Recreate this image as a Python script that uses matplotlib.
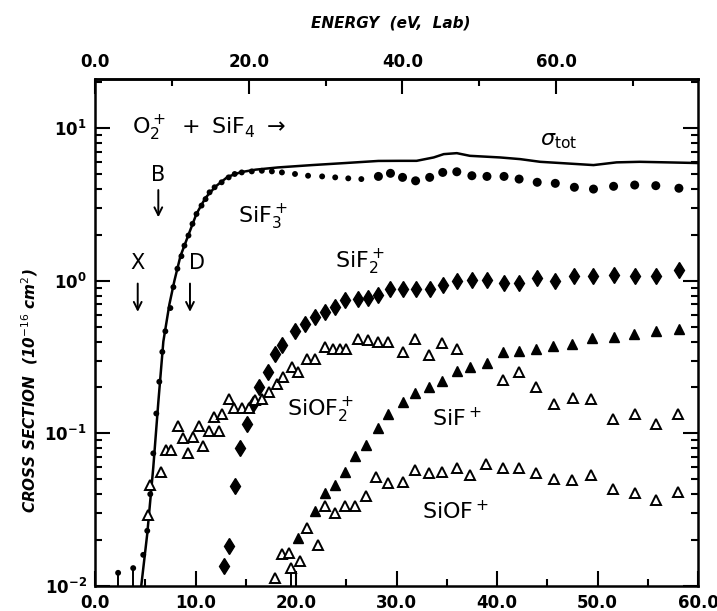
import matplotlib
matplotlib.use('Agg')
import matplotlib.pyplot as plt
import numpy as np
from matplotlib.ticker import FixedLocator, FormatStrFormatter, LogLocator

# total cross section (solid line)
tot_x = [4.6, 5.2, 5.8, 6.3, 6.8, 7.4, 7.9, 8.5, 9.3, 10.1, 11.0, 12.0, 13.2, 14.5,
         16.0, 18.2, 21.6, 24.9, 28.2, 30.3, 32.0, 33.7, 34.7, 36.0, 37.3, 40.3,
         42.3, 44.3, 46.3, 49.6, 51.9, 54.2, 56.9, 60.0]
tot_y = [0.010, 0.022, 0.060, 0.16, 0.40, 0.70, 1.0, 1.45, 2.0, 2.75, 3.5, 4.15, 4.8, 5.15,
         5.35, 5.53, 5.73, 5.91, 6.10, 6.11, 6.11, 6.43, 6.76, 6.86, 6.59, 6.43,
         6.27, 6.02, 5.91, 5.73, 5.97, 6.02, 5.97, 5.91]

# SiF3+ (filled circles)
sif3_x = [2.3, 3.8, 4.8, 5.2, 5.5, 5.8, 6.1, 6.4, 6.7, 7.0, 7.5, 7.8, 8.2, 8.6, 8.9, 9.3,
          9.7, 10.1, 10.6, 11.0, 11.4, 11.9, 12.6, 13.3, 13.9, 14.6, 15.6, 16.6, 17.6,
          18.6, 19.9, 21.2, 22.6, 23.9, 25.2, 26.5, 28.2, 29.4, 30.6, 31.9, 33.3, 34.6,
          36.0, 37.5, 39.0, 40.7, 42.2, 44.0, 45.8, 47.7, 49.6, 51.6, 53.7, 55.8, 58.1]
sif3_y = [0.0122, 0.0131, 0.016, 0.023, 0.040, 0.074, 0.135, 0.218, 0.342, 0.467, 0.663,
          0.909, 1.20, 1.45, 1.70, 1.98, 2.36, 2.74, 3.11, 3.43, 3.80, 4.10, 4.42, 4.76,
          5.01, 5.13, 5.21, 5.26, 5.21, 5.13, 5.01, 4.88, 4.83, 4.76, 4.69, 4.64, 4.83,
          5.06, 4.76, 4.52, 4.76, 5.13, 5.18, 4.88, 4.83, 4.83, 4.64, 4.42, 4.35, 4.10,
          3.99, 4.16, 4.24, 4.20, 4.04]

# SiF2+ (filled diamonds)
sif2_x = [12.8, 13.3, 13.9, 14.4, 15.1, 15.7, 16.3, 17.2, 17.9, 18.6, 19.9, 20.9, 21.9,
          22.9, 23.9, 24.9, 26.2, 27.2, 28.2, 29.4, 30.6, 31.9, 33.3, 34.6, 36.0, 37.5,
          39.0, 40.7, 42.2, 44.0, 45.8, 47.7, 49.6, 51.6, 53.7, 55.8, 58.1]
sif2_y = [0.0135, 0.0182, 0.0455, 0.080, 0.116, 0.157, 0.202, 0.253, 0.333, 0.382, 0.467,
          0.524, 0.579, 0.624, 0.673, 0.743, 0.763, 0.770, 0.802, 0.887, 0.887, 0.877,
          0.887, 0.942, 0.99, 1.005, 1.005, 0.97, 0.966, 1.04, 0.99, 1.07, 1.08, 1.09,
          1.08, 1.07, 1.18]

# SiOF2+ (open triangles)
siof2_x = [5.3, 5.5, 6.6, 7.1, 7.6, 8.3, 8.8, 9.3, 9.8, 10.3, 10.7, 11.3, 11.8, 12.3,
           12.6, 13.3, 13.8, 14.6, 15.3, 15.9, 16.6, 17.3, 18.1, 18.7, 19.6, 20.2, 21.1,
           21.9, 22.9, 23.7, 24.4, 25.0, 26.2, 27.2, 28.2, 29.2, 30.6, 31.8, 33.2, 34.5,
           36.0, 40.6, 42.2, 43.9, 45.7, 47.6, 49.4, 51.5, 53.7, 55.8, 58.0]
siof2_y = [0.029, 0.046, 0.056, 0.078, 0.078, 0.111, 0.093, 0.074, 0.095, 0.112, 0.083,
           0.103, 0.128, 0.103, 0.135, 0.169, 0.146, 0.146, 0.146, 0.165, 0.169, 0.187,
           0.212, 0.235, 0.273, 0.253, 0.309, 0.309, 0.368, 0.359, 0.359, 0.359, 0.418,
           0.407, 0.397, 0.397, 0.342, 0.418, 0.325, 0.393, 0.359, 0.223, 0.253, 0.202,
           0.157, 0.171, 0.169, 0.124, 0.135, 0.116, 0.133]

# SiF+ (filled triangles)
sif_x = [20.2, 21.9, 22.9, 23.9, 24.9, 25.9, 27.0, 28.2, 29.2, 30.6, 31.8, 33.2, 34.5,
         36.0, 37.3, 39.0, 40.6, 42.2, 43.9, 45.6, 47.5, 49.5, 51.6, 53.6, 55.8, 58.1]
sif_y = [0.0206, 0.0308, 0.0405, 0.046, 0.056, 0.0715, 0.084, 0.109, 0.135, 0.160, 0.185,
         0.202, 0.220, 0.255, 0.273, 0.291, 0.342, 0.345, 0.356, 0.374, 0.388, 0.422,
         0.428, 0.451, 0.467, 0.481]

# SiOF+ (open triangles)
siof_x = [17.9, 18.6, 19.3, 19.5, 20.4, 21.1, 22.2, 22.9, 23.9, 24.9, 25.9, 27.0, 28.0,
          29.2, 30.6, 31.8, 33.2, 34.5, 36.0, 37.3, 38.9, 40.6, 42.2, 43.9, 45.7, 47.5,
          49.4, 51.5, 53.7, 55.8, 58.0]
siof_y = [0.0113, 0.0162, 0.0165, 0.0131, 0.0145, 0.0239, 0.0186, 0.0332, 0.030, 0.0332,
          0.0332, 0.0386, 0.052, 0.047, 0.048, 0.0576, 0.0548, 0.0562, 0.059, 0.0534,
          0.0627, 0.059, 0.059, 0.0548, 0.0503, 0.0495, 0.0534, 0.0432, 0.0405, 0.0366,
          0.0416]

# points that carry an error bar down to the axis
pin_x = [2.3, 3.8, 19.5]
pin_y = [0.0122, 0.0131, 0.0131]

LAB_FACTOR = 136.0 / 104.0  # c.m. -> lab energy for O2+ on SiF4

fig = plt.figure(figsize=(7.17, 6.11), dpi=100)
ax = fig.add_axes([0.1325, 0.0409, 0.841, 0.8298])

ax.plot(tot_x, tot_y, color='black', lw=1.8, zorder=3)

sif3_x = np.array(sif3_x)
sizes = np.where(sif3_x < 28, 18, 42)
ax.scatter(sif3_x, sif3_y, s=sizes, c='black', marker='o', lw=0, zorder=4)
ax.plot(sif2_x, sif2_y, ls='none', marker='d', ms=8, color='black', zorder=4)
ax.plot(sif_x, sif_y, ls='none', marker='^', ms=7, color='black', zorder=4)
ax.plot(siof2_x, siof2_y, ls='none', marker='^', ms=6.5, mfc='white', mec='black',
        mew=1.4, zorder=4)
ax.plot(siof_x, siof_y, ls='none', marker='^', ms=6.5, mfc='white', mec='black',
        mew=1.4, zorder=4)
ax.vlines(pin_x, 0.01, pin_y, color='black', lw=1.4, zorder=3)

ax.set_yscale('log')
ax.set_xlim(0, 60)
ax.set_ylim(0.01, 21)

# ticks
ax.xaxis.set_major_locator(FixedLocator(np.arange(0, 61, 10)))
ax.xaxis.set_minor_locator(FixedLocator(np.arange(5, 60, 10)))
ax.xaxis.set_major_formatter(FormatStrFormatter('%.1f'))
ax.yaxis.set_major_locator(LogLocator(base=10, numticks=10))
ax.yaxis.set_minor_locator(LogLocator(base=10, subs=np.arange(2, 10), numticks=10))
ax.tick_params(which='both', direction='in', width=1.5, top=False, right=True,
               labelsize=12)
ax.tick_params(which='major', length=11, pad=6)
ax.tick_params(which='minor', length=5)
for lab in ax.get_xticklabels() + ax.get_yticklabels():
    lab.set_fontweight('bold')
for sp in ax.spines.values():
    sp.set_linewidth(1.8)

top = ax.secondary_xaxis('top', functions=(lambda e: e * LAB_FACTOR,
                                           lambda e: e / LAB_FACTOR))
top.xaxis.set_major_locator(FixedLocator([0, 20, 40, 60]))
top.xaxis.set_minor_locator(FixedLocator([10, 30, 50, 70]))
top.xaxis.set_major_formatter(FormatStrFormatter('%.1f'))
top.tick_params(which='both', direction='in', width=1.5, labelsize=12)
top.tick_params(which='major', length=11, pad=6)
top.tick_params(which='minor', length=5)
for lab in top.get_xticklabels():
    lab.set_fontweight('bold')
top.spines['top'].set_linewidth(1.8)

# labels
fig.text(0.545, 0.962, 'ENERGY  (eV,  Lab)', ha='center', va='center',
         fontsize=11, style='italic', fontweight='bold')
fig.text(0.042, 0.36, r'CROSS SECTION  (10$^{-16}$ cm$^{2}$)', ha='center',
         va='center', rotation=90, fontsize=11, style='italic', fontweight='bold')

# annotations
lbl = dict(fontsize=16, ha='left', va='center', color='black')
ax.text(3.7, 10.0, r'$\mathregular{O_2^+\ +\ SiF_4\ \rightarrow}$', **lbl)
ax.text(44.3, 8.3, r'$\sigma_{\mathregular{tot}}$', **lbl)
ax.text(14.2, 2.62, r'$\mathregular{SiF_3^+}$', **lbl)
ax.text(23.9, 1.33, r'$\mathregular{SiF_2^+}$', **lbl)
ax.text(19.1, 0.141, r'$\mathregular{SiOF_2^+}$', **lbl)
ax.text(33.5, 0.125, r'$\mathregular{SiF^+}$', **lbl)
ax.text(32.5, 0.031, r'$\mathregular{SiOF^+}$', **lbl)

ax.text(6.3, 4.95, 'B', fontsize=15, ha='center', va='center')
ax.text(4.25, 1.30, 'X', fontsize=15, ha='center', va='center')
ax.text(10.1, 1.30, 'D', fontsize=15, ha='center', va='center')
arrow = dict(arrowstyle='->', lw=1.4, color='black', mutation_scale=14)
ax.annotate('', xy=(6.3, 2.5), xytext=(6.3, 4.1), arrowprops=arrow)
ax.annotate('', xy=(4.25, 0.60), xytext=(4.25, 1.0), arrowprops=arrow)
ax.annotate('', xy=(9.45, 0.60), xytext=(9.45, 1.0), arrowprops=arrow)

fig.savefig('out.png', dpi=100)
